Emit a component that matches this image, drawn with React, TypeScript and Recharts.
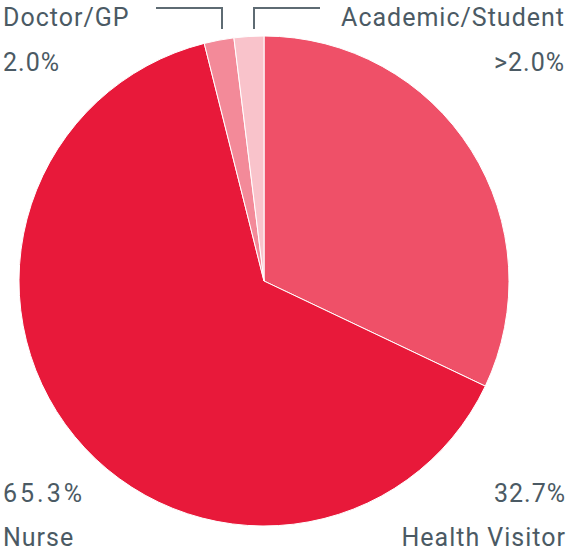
import { Cell, Pie, PieChart } from 'recharts';

const categories = ['Health Visitor', 'Nurse', 'Doctor/GP', 'Academic/Student'];
const shares = [32.7, 65.3, 2.0, 2.0];
const shareLabels = ['32.7%', '65.3%', '2.0%', '>2.0%'];
const sliceColors = ['#EF5068', '#E8193A', '#F38A99', '#F9C3CB'];

const W = 568;
const H = 551;
const textColor = '#4B5A64';

const data = categories.map((name, i) => ({ name, value: shares[i] }));

export default function App() {
  const font = { fontFamily: 'Roboto, sans-serif', fontSize: 25, fill: textColor, letterSpacing: 1 };
  return (
    <div style={{ position: 'absolute', left: 0, top: 0, width: W, height: H, background: '#fff' }}>
      <PieChart width={W} height={H} margin={{ top: 0, right: 0, bottom: 0, left: 0 }}>
        <Pie
          data={data}
          dataKey="value"
          nameKey="name"
          cx={264}
          cy={281}
          outerRadius={245}
          startAngle={90}
          endAngle={-270}
          stroke="#ffffff"
          strokeWidth={1}
          isAnimationActive={false}
        >
          {data.map((d, i) => (
            <Cell key={d.name} fill={sliceColors[i]} />
          ))}
        </Pie>
      </PieChart>
      <svg width={W} height={H} style={{ position: 'absolute', left: 0, top: 0, pointerEvents: 'none' }}>
        {/* top-left: Doctor/GP */}
        <text x={3} y={26} {...font}>{categories[2]}</text>
        <text x={3} y={71} {...font}>{shareLabels[2]}</text>
        <polyline points="156,8 222,8 222,29" fill="none" stroke="#5E6B73" strokeWidth={2} />
        {/* top-right: Academic/Student */}
        <text x={565} y={26} textAnchor="end" {...font}>{categories[3]}</text>
        <text x={565} y={71} textAnchor="end" {...font}>{shareLabels[3]}</text>
        <polyline points="254,29 254,8 320,8" fill="none" stroke="#5E6B73" strokeWidth={2} />
        {/* bottom-left: Nurse */}
        <text x={3} y={502} {...font} letterSpacing={3}>{shareLabels[1]}</text>
        <text x={3} y={546} {...font}>{categories[1]}</text>
        {/* bottom-right: Health Visitor */}
        <text x={566} y={502} textAnchor="end" {...font}>{shareLabels[0]}</text>
        <text x={566} y={546} textAnchor="end" {...font}>{categories[0]}</text>
      </svg>
    </div>
  );
}
